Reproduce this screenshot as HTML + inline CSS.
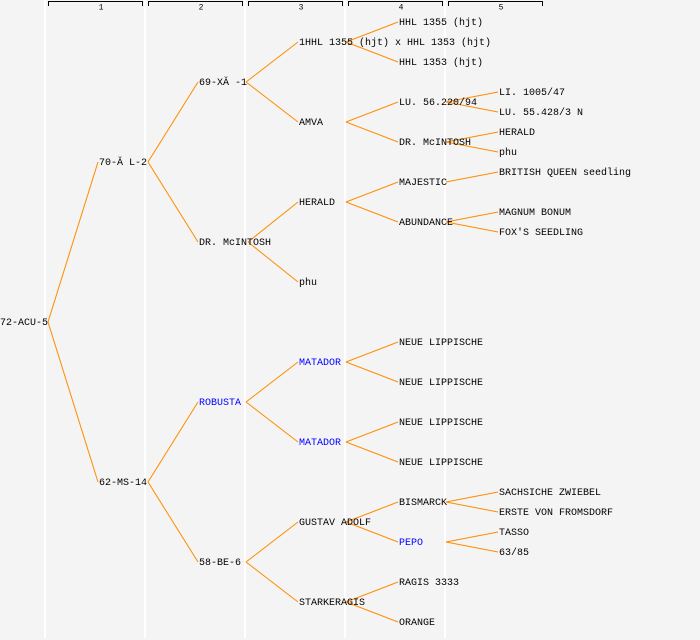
<!DOCTYPE html>
<html><head><meta charset="utf-8"><style>
html,body{margin:0;padding:0;background:#f4f4f4;}
svg{display:block;}
text{font-family:"Liberation Mono",monospace;font-size:10px;fill:#000;dominant-baseline:central;}
.b{fill:#0000ff;}
.h{font-size:8px;text-anchor:middle;}
line.e{stroke:#ff8c00;stroke-width:1;}
</style></head><body>
<svg width="700" height="640" viewBox="0 0 700 640">
<rect width="700" height="640" fill="#f4f4f4"/>
<g stroke="#ffffff" stroke-width="2">
<line x1="45" y1="0" x2="45" y2="638"/><line x1="145" y1="0" x2="145" y2="638"/><line x1="245" y1="0" x2="245" y2="638"/><line x1="345" y1="0" x2="345" y2="638"/><line x1="445" y1="0" x2="445" y2="638"/>
</g>
<g stroke="#000" stroke-width="1" fill="none">
<path d="M48.5 6V1.5H142.5V6"/><path d="M148.5 6V1.5H242.5V6"/><path d="M248.5 6V1.5H342.5V6"/><path d="M348.5 6V1.5H442.5V6"/><path d="M448.5 6V1.5H542.5V6"/>
</g>
<text class="h" x="101" y="8">1</text><text class="h" x="201" y="8">2</text><text class="h" x="301" y="8">3</text><text class="h" x="401" y="8">4</text><text class="h" x="501" y="8">5</text>
<g>
<line class="e" x1="48" y1="322" x2="98" y2="162"/><line class="e" x1="48" y1="322" x2="98" y2="482"/>
<line class="e" x1="148" y1="162" x2="198" y2="82"/><line class="e" x1="148" y1="162" x2="198" y2="242"/>
<line class="e" x1="148" y1="482" x2="198" y2="402"/><line class="e" x1="148" y1="482" x2="198" y2="562"/>
<line class="e" x1="246" y1="82" x2="298" y2="42"/><line class="e" x1="246" y1="82" x2="298" y2="122"/>
<line class="e" x1="248" y1="242" x2="298" y2="202"/><line class="e" x1="248" y1="242" x2="298" y2="282"/>
<line class="e" x1="246" y1="402" x2="298" y2="362"/><line class="e" x1="246" y1="402" x2="298" y2="442"/>
<line class="e" x1="246" y1="562" x2="298" y2="522"/><line class="e" x1="246" y1="562" x2="298" y2="602"/>
<line class="e" x1="346" y1="42" x2="398" y2="22"/><line class="e" x1="346" y1="42" x2="398" y2="62"/>
<line class="e" x1="346" y1="122" x2="398" y2="102"/><line class="e" x1="346" y1="122" x2="398" y2="142"/>
<line class="e" x1="346" y1="202" x2="398" y2="182"/><line class="e" x1="346" y1="202" x2="398" y2="222"/>
<line class="e" x1="346" y1="362" x2="398" y2="342"/><line class="e" x1="346" y1="362" x2="398" y2="382"/>
<line class="e" x1="346" y1="442" x2="398" y2="422"/><line class="e" x1="346" y1="442" x2="398" y2="462"/>
<line class="e" x1="346" y1="522" x2="398" y2="502"/><line class="e" x1="346" y1="522" x2="398" y2="542"/>
<line class="e" x1="346" y1="602" x2="398" y2="582"/><line class="e" x1="346" y1="602" x2="398" y2="622"/>
<line class="e" x1="446" y1="102" x2="498" y2="92"/><line class="e" x1="446" y1="102" x2="498" y2="112"/>
<line class="e" x1="446" y1="142" x2="498" y2="132"/><line class="e" x1="446" y1="142" x2="498" y2="152"/>
<line class="e" x1="446" y1="182" x2="498" y2="172"/>
<line class="e" x1="446" y1="222" x2="498" y2="212"/><line class="e" x1="446" y1="222" x2="498" y2="232"/>
<line class="e" x1="446" y1="502" x2="498" y2="492"/><line class="e" x1="446" y1="502" x2="498" y2="512"/>
<line class="e" x1="446" y1="542" x2="498" y2="532"/><line class="e" x1="446" y1="542" x2="498" y2="552"/>
</g>
<g transform="translate(0,1.5)">
<text x="0" y="322">72-ACU-5</text>
<text x="99" y="162">70-Ă L-2</text><text x="99" y="482">62-MS-14</text>
<text x="199" y="82">69-XĂ -1</text><text x="199" y="242">DR. McINTOSH</text><text x="199" y="402" class="b">ROBUSTA</text><text x="199" y="562">58-BE-6</text>
<text x="299" y="42">1HHL 1355 (hjt) x HHL 1353 (hjt)</text><text x="299" y="122">AMVA</text><text x="299" y="202">HERALD</text><text x="299" y="282">phu</text>
<text x="299" y="362" class="b">MATADOR</text><text x="299" y="442" class="b">MATADOR</text><text x="299" y="522">GUSTAV ADOLF</text><text x="299" y="602">STARKERAGIS</text>
<text x="399" y="22">HHL 1355 (hjt)</text><text x="399" y="62">HHL 1353 (hjt)</text><text x="399" y="102">LU. 56.220/94</text><text x="399" y="142">DR. McINTOSH</text>
<text x="399" y="182">MAJESTIC</text><text x="399" y="222">ABUNDANCE</text>
<text x="399" y="342">NEUE LIPPISCHE</text><text x="399" y="382">NEUE LIPPISCHE</text><text x="399" y="422">NEUE LIPPISCHE</text><text x="399" y="462">NEUE LIPPISCHE</text>
<text x="399" y="502">BISMARCK</text><text x="399" y="542" class="b">PEPO</text><text x="399" y="582">RAGIS 3333</text><text x="399" y="622">ORANGE</text>
<text x="499" y="92">LI. 1005/47</text><text x="499" y="112">LU. 55.428/3 N</text><text x="499" y="132">HERALD</text><text x="499" y="152">phu</text>
<text x="499" y="172">BRITISH QUEEN seedling</text><text x="499" y="212">MAGNUM BONUM</text><text x="499" y="232">FOX'S SEEDLING</text>
<text x="499" y="492">SACHSICHE ZWIEBEL</text><text x="499" y="512">ERSTE VON FROMSDORF</text><text x="499" y="532">TASSO</text><text x="499" y="552">63/85</text>
</g>
</svg>
</body></html>
